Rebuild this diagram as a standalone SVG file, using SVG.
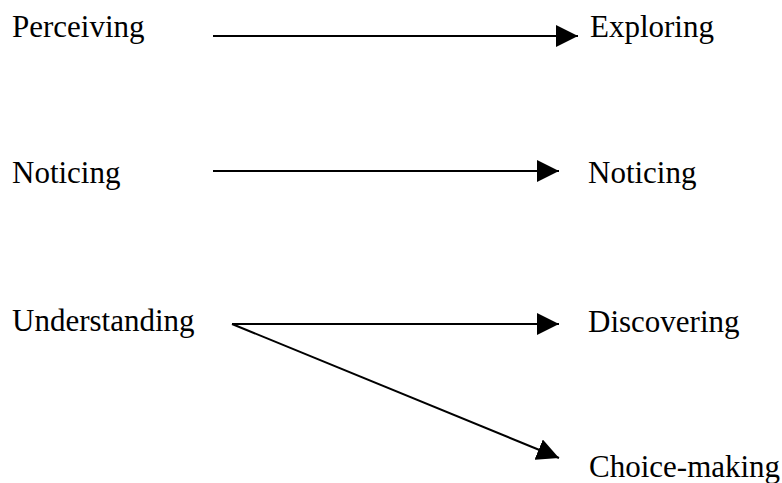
<svg xmlns="http://www.w3.org/2000/svg" width="782" height="483" viewBox="0 0 782 483">
<style>
text{font-family:"Liberation Serif","Times New Roman",serif;font-size:31px;fill:#000}
.c{stroke:#000;stroke-width:2;fill:none}
</style>
<defs>
<marker id="ah" markerUnits="userSpaceOnUse" markerWidth="22" markerHeight="22" viewBox="0 0 20 20" refX="20" refY="10" orient="auto">
<path d="M0,0 L20,10 L0,20 Z" fill="#000"/>
</marker>
</defs>
<rect width="782" height="483" fill="#fff"/>
<g id="perceiving"><text x="12" y="37">Perceiving</text></g>
<g id="exploring"><text x="590" y="37">Exploring</text></g>
<g id="noticing-left"><text x="12" y="183">Noticing</text></g>
<g id="noticing-right"><text x="588" y="183">Noticing</text></g>
<g id="understanding"><text x="12" y="331">Understanding</text></g>
<g id="discovering"><text x="588" y="332">Discovering</text></g>
<g id="choice-making"><text x="589" y="477">Choice-making</text></g>
<g id="connectors">
<line class="c" x1="213" y1="36" x2="578" y2="36" marker-end="url(#ah)"/>
<line class="c" x1="213" y1="171" x2="559" y2="171" marker-end="url(#ah)"/>
<line class="c" x1="232" y1="324" x2="559" y2="324" marker-end="url(#ah)"/>
<line class="c" x1="232" y1="324" x2="559" y2="458" marker-end="url(#ah)"/>
</g>
</svg>
